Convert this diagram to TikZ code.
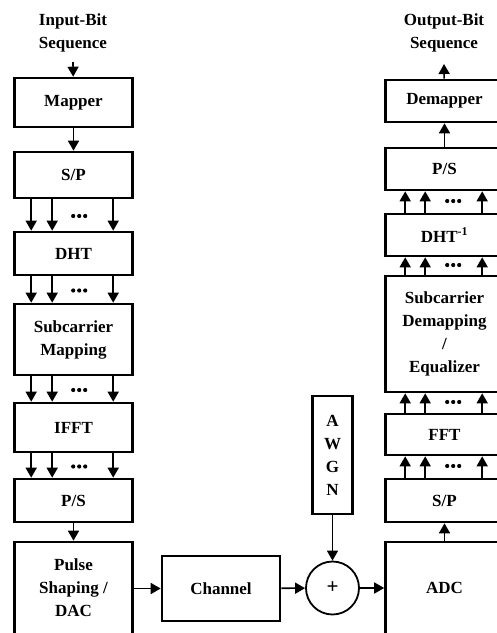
\documentclass[tikz,border=0pt]{standalone}
\usepackage{fontspec}
\setmainfont{Liberation Serif}
\usetikzlibrary{arrows.meta,calc}
\tikzset{
  blk/.style={draw, line width=2.6pt, minimum width=118pt, inner sep=0pt, align=center,
    font=\bfseries\fontsize{17}{23}\selectfont},
  lbl/.style={align=center, inner sep=0pt, font=\bfseries\fontsize{17}{23}\selectfont},
  arr/.style={line width=1.6pt, -{Triangle[length=10pt,width=11pt]}},
  bdot/.style={circle, fill, inner sep=0pt, minimum size=4.2pt}
}
\newcommand\multidown[2]{%
  \foreach \o in {18,39,100}
    \draw[arr] ($(#1.south west)+(\o,0)$) -- ($(#2.north west)+(\o,0)$);
  \foreach \d in {-6,0,6}
    \node[bdot] at ($($(#1.south west)!0.5!(#2.north west)$)+(66+\d,1)$) {};
}
\newcommand\multiup[2]{%
  \foreach \o in {21,41,98}
    \draw[arr] ($(#1.north west)+(\o,0)$) -- ($(#2.south west)+(\o,0)$);
  \foreach \d in {-6,0,6}
    \node[bdot] at ($($(#1.north west)!0.5!(#2.south west)$)+(69+\d,-1)$) {};
}
\begin{document}
\begin{tikzpicture}[x=1pt,y=-1pt]
\useasboundingbox (0,0) rectangle (497,633);
% transmitter
\node[lbl] (in) at (73,33) {Input-Bit\\Sequence};
\coordinate (inarr) at (73,62);
\node[blk, minimum height=49pt] (map) at (73.5,102.5) {Mapper};
\node[blk, minimum height=46pt] (sp1) at (73.5,175) {S/P};
\node[blk, minimum height=43pt] (dht) at (73.5,253.5) {DHT};
\node[blk, minimum height=71pt] (scm) at (73.5,339.5) {Subcarrier\\Mapping};
\node[blk, minimum height=49pt] (ifft) at (73.5,427.5) {IFFT};
\node[blk, minimum height=43pt] (ps1) at (73.5,500.5) {P/S};
\node[blk, minimum height=92pt] (pulse) at (73.5,588) {Pulse\\Shaping /\\DAC};
% channel
\node[blk, minimum width=118pt, minimum height=65pt] (chan) at (221,588.5) {Channel};
\node[draw, circle, line width=1.8pt, minimum size=53pt, inner sep=0pt,
  font=\bfseries\fontsize{21}{23}\selectfont] (sum) at (332.5,588) {+};
\node[blk, minimum width=40pt, minimum height=118pt] (awgn) at (332.5,455) {A\\W\\G\\N};
% receiver
\node[lbl] (out) at (444,33) {Output-Bit\\Sequence};
\coordinate (outarr) at (444,64);
\node[blk, minimum height=42pt] (demap) at (444.5,101) {Demapper};
\node[blk, minimum height=42pt] (ps2) at (444.5,169) {P/S};
\node[blk, minimum height=42pt] (idht) at (444.5,235) {DHT\textsuperscript{-1}};
\node[blk, minimum height=116pt] (scd) at (444.5,334) {Subcarrier\\Demapping\\/\\Equalizer};
\node[blk, minimum height=41pt] (fft) at (444.5,434.5) {FFT};
\node[blk, minimum height=43pt] (sp2) at (444.5,500.5) {S/P};
\node[blk, minimum height=92pt] (adc) at (444.5,588) {ADC};
% connectors
\draw[arr] (inarr) -- (map);
\draw[arr] (map) -- (sp1);
\multidown{sp1}{dht}
\multidown{dht}{scm}
\multidown{scm}{ifft}
\multidown{ifft}{ps1}
\draw[arr] (ps1) -- (pulse);
\draw[arr] (pulse.east |- chan) -- (chan);
\draw[arr] (chan) -- (sum);
\draw[arr] (awgn) -- (sum);
\draw[arr] (sum) -- (adc.west |- sum);
\draw[arr] (adc.north -| sp2) -- (sp2);
\multiup{sp2}{fft}
\multiup{fft}{scd}
\multiup{scd}{idht}
\multiup{idht}{ps2}
\draw[arr] (ps2) -- (demap);
\draw[arr] (demap) -- (outarr);
\end{tikzpicture}
\end{document}
